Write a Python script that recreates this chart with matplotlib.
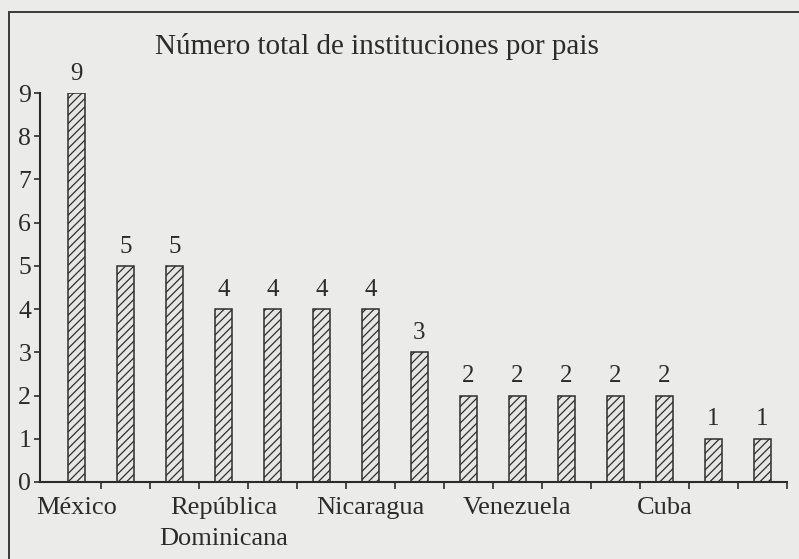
import matplotlib
matplotlib.use("Agg")
import matplotlib.pyplot as plt
from matplotlib.patches import Rectangle
import numpy as np

# Data
categories = ["México", "", "", "República\nDominicana", "", "", "Nicaragua", "", "",
              "Venezuela", "", "", "Cuba", "", ""]
values = [9, 5, 5, 4, 4, 4, 4, 3, 2, 2, 2, 2, 2, 1, 1]
title = "Número total de instituciones por pais"
yticks = list(range(0, 10))

plt.rcParams['font.family'] = ['Liberation Serif', 'DejaVu Serif']
plt.rcParams['hatch.linewidth'] = 0.9

bg = '#ebebe9'
ink = '#2b2b2b'

W, H = 799, 559
fig = plt.figure(figsize=(W / 100, H / 100), dpi=100, facecolor=bg)

# page frame (partly cropped)
fig.patches.append(Rectangle((8.5 / W, -0.1), 2.0, 1 - 12 / H + 0.1,
                             transform=fig.transFigure, fill=False,
                             edgecolor='#3a3a3a', linewidth=1.4))

left = 39.5 / W
right = 787 / W
bottom = 1 - 482 / H
top = 1 - 93 / H
ax = fig.add_axes([left, bottom, right - left, top - bottom])
ax.set_facecolor('none')

x = np.arange(len(values))
bars = ax.bar(x, values, width=0.34, color='#e6e6e4', edgecolor='#2e2e2e',
              linewidth=1.1, hatch='////')

for xi, v in zip(x, values):
    ax.annotate(str(v), (xi, v), xytext=(0, 6), textcoords='offset points',
                ha='center', va='bottom', fontsize=18, color=ink)

ax.set_xlim(-0.755, len(values) - 0.5)
ax.set_ylim(0, 9)

ax.set_yticks(yticks)
ax.set_yticklabels([str(t) for t in yticks])
ax.set_xticks(x)
ax.set_xticklabels(categories, linespacing=1.5)
ax.set_xticks(x + 0.5, minor=True)

ax.tick_params(axis='y', direction='out', length=4, width=1.2, pad=2,
               labelsize=18.5, colors=ink)
ax.tick_params(axis='x', which='major', length=0, pad=11, labelsize=19,
               colors=ink)
ax.tick_params(axis='x', which='minor', direction='out', length=5, width=1.2,
               colors=ink)

for s in ['top', 'right']:
    ax.spines[s].set_visible(False)
for s in ['left', 'bottom']:
    ax.spines[s].set_linewidth(1.5)
    ax.spines[s].set_color(ink)

fig.text(155 / W, 1 - 47 / H, title, ha='left', va='center', fontsize=21,
         color=ink)

fig.savefig('out.png', dpi=100, facecolor=bg)
